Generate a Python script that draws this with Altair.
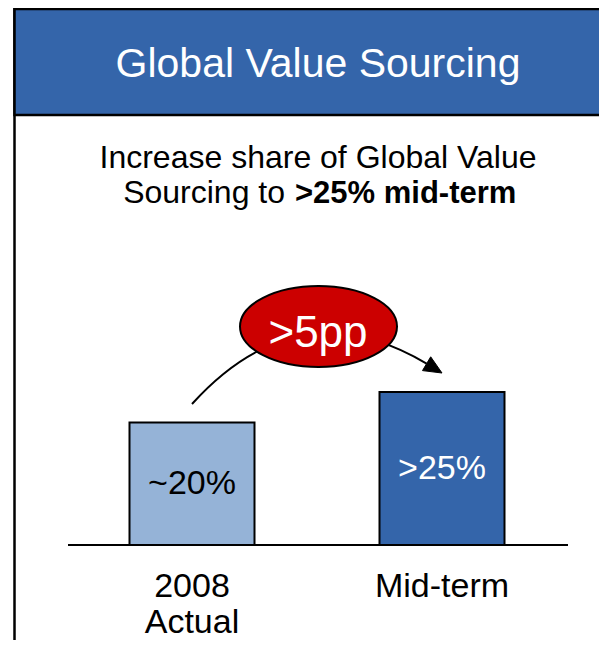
import altair as alt
import pandas as pd

# ---- data ----
categories = ["2008 Actual", "Mid-term"]
category_text = ["2008\nActual", "Mid-term"]
values = [20, 25]
bar_labels = ["~20%", ">25%"]
bar_fills = ["#95B3D7", "#3465AA"]
label_colors = ["#000000", "#FFFFFF"]

title_text = "Global Value Sourcing"
subtitle_line1 = "Increase share of Global Value"
subtitle_line2_normal = "Sourcing to"
subtitle_line2_bold = ">25% mid-term"
delta_label = ">5pp"

# ---- layout constants (pixels, chart coordinates) ----
W, H = 591, 632
FONT = "Liberation Sans"
BLUE = "#3465AA"
RED = "#CC0000"

df = pd.DataFrame({
    "category": categories,
    "cat_text": category_text,
    "value": values,
    "label": bar_labels,
    "fill": bar_fills,
    "lcolor": label_colors,
})
one = pd.DataFrame({"k": [0]})

xscale = alt.Scale(domain=categories, range=[59, 559], paddingInner=0.5, paddingOuter=0.25)
yscale = alt.Scale(domain=[0, 25], range=[537, 384])

X = alt.X("category:N", scale=xscale, axis=None)

# frame + header
frame = alt.Chart(one).mark_rect(fill="white", stroke="black", strokeWidth=2.5).encode(
    x=alt.value(6.5), x2=alt.value(W + 40), y=alt.value(1), y2=alt.value(H + 40))
header = alt.Chart(one).mark_rect(fill=BLUE, stroke="black", strokeWidth=2.5).encode(
    x=alt.value(6.5), x2=alt.value(W + 40), y=alt.value(1), y2=alt.value(107))
header_text = alt.Chart(one).mark_text(
    text=title_text, font=FONT, fontSize=41, color="white", align="center", baseline="alphabetic"
).encode(x=alt.value(310), y=alt.value(69))

sub1 = alt.Chart(one).mark_text(
    text=subtitle_line1, font=FONT, fontSize=32, color="black", align="center", baseline="alphabetic"
).encode(x=alt.value(310), y=alt.value(160))
sub2a = alt.Chart(one).mark_text(
    text=subtitle_line2_normal, font=FONT, fontSize=32, color="black", align="right", baseline="alphabetic"
).encode(x=alt.value(277), y=alt.value(195))
sub2b = alt.Chart(one).mark_text(
    text=subtitle_line2_bold, font=FONT, fontSize=31, fontWeight="bold", color="black",
    align="left", baseline="alphabetic"
).encode(x=alt.value(287), y=alt.value(195))

# bars
bars = alt.Chart(df).mark_bar(stroke="black", strokeWidth=2, opacity=1).encode(
    x=X,
    y=alt.Y("value:Q", scale=yscale, axis=None),
    y2=alt.datum(0),
    fill=alt.Fill("fill:N", scale=None),
)
bar_text = alt.Chart(df).transform_calculate(mid="datum.value / 2").mark_text(
    font=FONT, fontSize=34, align="center", baseline="middle"
).encode(
    x=X,
    y=alt.Y("mid:Q", scale=yscale, axis=None),
    text="label:N",
    color=alt.Color("lcolor:N", scale=None),
)
cat_text = alt.Chart(df).mark_text(
    font=FONT, fontSize=34, align="center", baseline="alphabetic", lineBreak="\n", lineHeight=36, color="black"
).encode(x=X, y=alt.value(589), text="cat_text:N")

baseline = alt.Chart(one).mark_rule(color="black", strokeWidth=2).encode(
    x=alt.value(60), x2=alt.value(560), y=alt.value(537))

# curved arrow (path in pixel units, size 4 -> scale 1)
curve_path = "M 184 396 Q 290 279 418.6 355.7"
head_path = "M 434 365 L 422.7 348.8 L 414.5 362.6 Z"
curve = alt.Chart(one).mark_point(shape=curve_path, size=4, filled=False, stroke="black",
                                   strokeWidth=2, opacity=1).encode(x=alt.value(0), y=alt.value(0))
head = alt.Chart(one).mark_point(shape=head_path, size=4, filled=True, fill="black",
                                  stroke="black", strokeWidth=1, opacity=1).encode(x=alt.value(0), y=alt.value(0))

a, b, k = 78.5, 40.5, 0.5523
ellipse_path = (
    f"M {-a} 0 C {-a} {-k*b} {-k*a} {-b} 0 {-b} "
    f"C {k*a} {-b} {a} {-k*b} {a} 0 "
    f"C {a} {k*b} {k*a} {b} 0 {b} "
    f"C {-k*a} {b} {-a} {k*b} {-a} 0 Z"
)
ellipse = alt.Chart(one).mark_point(shape=ellipse_path, size=4, filled=True, fill=RED,
                                     stroke="black", strokeWidth=2, opacity=1).encode(
    x=alt.value(310.5), y=alt.value(318.5))
ellipse_text = alt.Chart(one).mark_text(
    text=delta_label, font=FONT, fontSize=44, color="white", align="center", baseline="alphabetic"
).encode(x=alt.value(310), y=alt.value(339))

chart = alt.layer(
    frame, header, header_text, sub1, sub2a, sub2b,
    baseline, bars, bar_text, cat_text,
    curve, head, ellipse, ellipse_text,
).properties(
    width=W, height=H, padding=0, autosize=alt.AutoSizeParams(type="none")
).configure_view(stroke=None)

chart.save("out.html", embed_options={"renderer": "svg", "actions": False})
